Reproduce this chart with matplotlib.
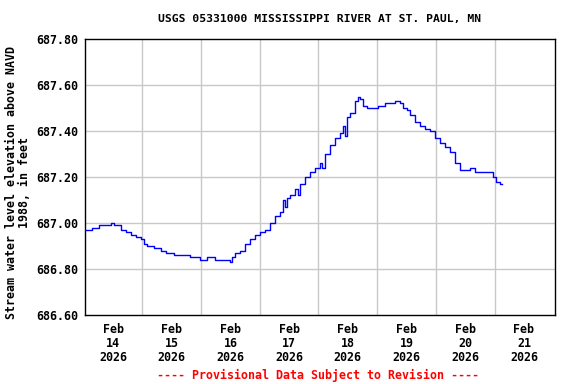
"""USGS gage 05331000 water level, 7-day plot (Feb 13-20 2026)."""
import numpy as np
import matplotlib
matplotlib.use("Agg")
import matplotlib.pyplot as plt

# hours since Feb 14 2026 00:00 and water level (ft, NAVD 1988)
hours = [-11.5, -9.4, -8.6, -5.7, -3.3, -0.8, 0.4, 1.6, 3.3, 5.3, 7.4, 9.4,
         11.5, 12.7, 13.9, 16.8, 19.6, 21.7, 24.9, 29.0, 31.5, 35.6, 38.4,
         41.7, 44.6, 47.8, 48.7, 49.9, 51.9, 54.0, 56.0, 58.1, 60.1, 62.2,
         64.2, 66.2, 68.3, 69.3, 70.3, 71.3, 72.4, 74.4, 75.5, 76.5, 78.5,
         80.5, 82.6, 84.6, 85.6, 86.7, 88.7, 90.8, 92.8, 94.0, 94.8, 95.7,
         96.9, 98.9, 100.2, 101.0, 102.2, 103.9, 105.9, 108.4, 111.2, 113.3,
         115.3, 116.5, 117.3, 118.6, 120.2, 121.4, 123.5, 125.5, 127.6, 129.6,
         131.7, 133.7, 135.7, 137.8, 139.8, 141.9, 143.9, 146.0, 148.0, 150.1,
         152.1, 154.1, 155.4, 156.6, 158.2, 159.1]
level = [686.97, 686.97, 686.98, 686.99, 686.99, 687.00, 686.99, 686.99, 686.97,
         686.96, 686.95, 686.94, 686.93, 686.91, 686.90, 686.89, 686.88, 686.87,
         686.86, 686.86, 686.85, 686.84, 686.85, 686.84, 686.84, 686.83, 686.85,
         686.87, 686.88, 686.91, 686.93, 686.95, 686.96, 686.97, 687.00, 687.03,
         687.05, 687.10, 687.07, 687.11, 687.12, 687.15, 687.12, 687.17, 687.20,
         687.22, 687.24, 687.26, 687.24, 687.30, 687.34, 687.37, 687.39, 687.42,
         687.38, 687.46, 687.48, 687.53, 687.55, 687.54, 687.51, 687.50, 687.50,
         687.51, 687.52, 687.52, 687.53, 687.53, 687.52, 687.50, 687.49, 687.47,
         687.44, 687.42, 687.41, 687.40, 687.37, 687.35, 687.33, 687.31, 687.26,
         687.23, 687.23, 687.24, 687.22, 687.22, 687.22, 687.22, 687.20, 687.18,
         687.17, 687.17]

day_ticks = [0, 24, 48, 72, 96, 120, 144, 168]
day_labels = ["Feb\n14\n2026", "Feb\n15\n2026", "Feb\n16\n2026", "Feb\n17\n2026",
              "Feb\n18\n2026", "Feb\n19\n2026", "Feb\n20\n2026", "Feb\n21\n2026"]
y_ticks = [686.6, 686.8, 687.0, 687.2, 687.4, 687.6, 687.8]

plt.rcParams["font.family"] = "DejaVu Sans Mono"
plt.rcParams["font.weight"] = "bold"
fs = 8.4

fig = plt.figure(figsize=(5.76, 3.84), dpi=100)
ax = fig.add_axes([0.1476, 0.1797, 0.8159, 0.7187])

# grid at noon, labels at midnight
for h in np.arange(12, 168, 24):
    ax.axvline(h, color="#c8c8c8", lw=1, zorder=1)
for v in y_ticks[1:-1]:
    ax.axhline(v, color="#c8c8c8", lw=1, zorder=1)

ax.plot(hours, level, color="#0000ff", lw=1, drawstyle="steps-post", zorder=3)

ax.set_xlim(-11.45, 180.7)
ax.set_ylim(686.6, 687.8)
ax.set_xticks(day_ticks)
ax.set_xticklabels(day_labels, fontsize=fs, fontweight="bold", linespacing=1.1)
ax.set_yticks(y_ticks)
ax.set_yticklabels([f"{v:.2f}" for v in y_ticks], fontsize=fs, fontweight="bold")
ax.tick_params(axis="both", length=0)
ax.tick_params(axis="x", pad=6)
ax.tick_params(axis="y", pad=5)
for s in ax.spines.values():
    s.set_linewidth(1.0)
    s.set_color("black")

fig.text(0.031, 0.525, "Stream water level elevation above NAVD\n1988, in feet",
         rotation=90, ha="center", va="center", multialignment="center",
         fontsize=fs, fontweight="bold", linespacing=1.0)
fig.text(0.554, 0.951, "USGS 05331000 MISSISSIPPI RIVER AT ST. PAUL, MN",
         ha="center", va="center", fontsize=8.2, fontweight="bold")
fig.text(0.552, 0.023, "---- Provisional Data Subject to Revision ----",
         ha="center", va="center", fontsize=fs, fontweight="bold", color="red")

fig.savefig("out.png", dpi=100)
